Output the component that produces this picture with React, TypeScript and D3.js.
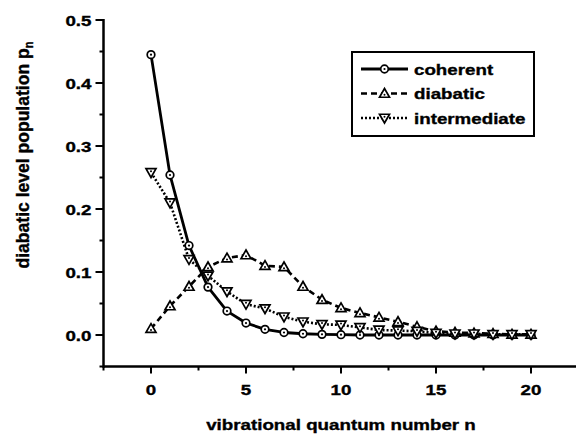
import React from "react";
import * as d3 from "d3";

const nValues = d3.range(0, 21);
const coherent = [0.445, 0.254, 0.142, 0.076, 0.038, 0.019, 0.009, 0.004, 0.002, 0.001, 0.0005, 0, 0, 0, 0, 0, 0, 0, 0, 0, 0];
const diabatic = [0.01, 0.046, 0.077, 0.108, 0.122, 0.127, 0.11, 0.108, 0.077, 0.056, 0.043, 0.035, 0.028, 0.021, 0.013, 0.006, 0.004, 0.003, 0.002, 0.001, 0.001];
const intermediate = [0.258, 0.21, 0.12, 0.094, 0.069, 0.049, 0.042, 0.029, 0.021, 0.017, 0.016, 0.012, 0.008, 0.007, 0.006, 0.003, 0.002, 0.002, 0.001, 0.001, 0.001];
const seriesNames = ["coherent", "diabatic", "intermediate"];
const xMajorTicks = [0, 5, 10, 15, 20];
const xMinorTicks = [-2.5, 2.5, 7.5, 12.5, 17.5, 22.5];
const yMajorTicks = [0.0, 0.1, 0.2, 0.3, 0.4, 0.5];
const yMinorTicks = [-0.05, 0.05, 0.15, 0.25, 0.35, 0.45];

const W = 576;
const H = 434;
const FONT = "'Liberation Sans', Arial, sans-serif";
const SX = 1.25;

const x = d3.scaleLinear().domain([-2.5, 22.5]).range([103.5, 578.5]);
const y = d3.scaleLinear().domain([-0.05, 0.5]).range([366.5, 20]);

type Kind = "circle" | "up" | "down";

function Marker({ cx, cy, kind }: { cx: number; cy: number; kind: Kind }) {
  if (kind === "circle") {
    return (
      <g>
        <circle cx={cx} cy={cy} r={3.8} fill="#fff" stroke="#000" strokeWidth={1.7} />
        <circle cx={cx} cy={cy} r={1.1} fill="#000" />
      </g>
    );
  }
  const s = 5;
  const pts =
    kind === "up"
      ? [[cx, cy - s], [cx + s, cy + s * 0.75], [cx - s, cy + s * 0.75]]
      : [[cx, cy + s], [cx + s, cy - s * 0.75], [cx - s, cy - s * 0.75]];
  return (
    <g>
      <polygon points={pts.map((p) => p.join(",")).join(" ")} fill="#fff" stroke="#000" strokeWidth={1.7} />
      <circle cx={cx} cy={kind === "up" ? cy + 1.3 : cy - 1.3} r={1} fill="#000" />
    </g>
  );
}

function SText({ px, py, anchor = "start", size = 15, children }: { px: number; py: number; anchor?: string; size?: number; children: React.ReactNode }) {
  return (
    <text
      transform={`translate(${px},${py}) scale(${SX},1)`}
      textAnchor={anchor}
      fontSize={size}
      fontWeight="bold"
      stroke="#000"
      strokeWidth={0.35}
    >
      {children}
    </text>
  );
}

const seriesData = [
  { name: seriesNames[0], values: coherent, kind: "circle" as Kind, dash: "none", width: 2.8 },
  { name: seriesNames[1], values: diabatic, kind: "up" as Kind, dash: "6,4", width: 2.6 },
  { name: seriesNames[2], values: intermediate, kind: "down" as Kind, dash: "2,2", width: 2.6 },
];

export default function App() {
  const line = d3
    .line<number>()
    .x((_, i) => x(nValues[i]))
    .y((d) => y(d));

  const axisY = y(-0.05);
  const axisX = x(-2.5);
  const legendX = 352;
  const legendY = 52;
  const legendRows = [69, 93.5, 118];

  return (
    <svg width={W} height={H} style={{ position: "absolute", left: 0, top: 0, background: "#fff" }} fontFamily={FONT}>
      <rect x={0} y={0} width={W} height={H} fill="#fff" />
      {seriesData.map((s) => (
        <path key={s.name} d={line(s.values) || ""} fill="none" stroke="#000" strokeWidth={s.width} strokeDasharray={s.dash} strokeLinejoin="round" />
      ))}
      {seriesData.map((s) =>
        s.values.map((v, i) => <Marker key={s.name + i} cx={x(nValues[i])} cy={y(v)} kind={s.kind} />)
      )}

      {/* axes */}
      <line x1={axisX} x2={W + 5} y1={axisY} y2={axisY} stroke="#000" strokeWidth={2.5} />
      <line x1={axisX} x2={axisX} y1={axisY + 1.25} y2={y(0.5) - 1} stroke="#000" strokeWidth={2.5} />
      {xMajorTicks.map((t) => (
        <g key={"xt" + t}>
          <line x1={x(t)} x2={x(t)} y1={axisY} y2={axisY + 7} stroke="#000" strokeWidth={2} />
          <SText px={x(t)} py={395} anchor="middle">{t}</SText>
        </g>
      ))}
      {xMinorTicks.map((t) => (
        <line key={"xm" + t} x1={x(t)} x2={x(t)} y1={axisY} y2={axisY + 4} stroke="#000" strokeWidth={2} />
      ))}
      {yMajorTicks.map((t) => (
        <g key={"yt" + t}>
          <line x1={axisX - 8} x2={axisX} y1={y(t)} y2={y(t)} stroke="#000" strokeWidth={2} />
          <SText px={axisX - 12} py={y(t) + 5.5} anchor="end">{d3.format(".1f")(t)}</SText>
        </g>
      ))}
      {yMinorTicks.map((t) => (
        <line key={"ym" + t} x1={axisX - 4} x2={axisX} y1={y(t)} y2={y(t)} stroke="#000" strokeWidth={2} />
      ))}

      {/* axis titles */}
      <SText px={341} py={430} anchor="middle">vibrational quantum number n</SText>
      <text
        transform="translate(29,155) rotate(-90) scale(1.17,1.25)"
        textAnchor="middle"
        fontSize={15}
        fontWeight="bold"
        stroke="#000"
        strokeWidth={0.3}
      >
        diabatic level population p<tspan fontSize={9.5} dy={3}>n</tspan>
      </text>

      {/* legend */}
      <rect x={legendX} y={legendY} width={182} height={84} fill="#fff" stroke="#000" strokeWidth={2} />
      {seriesData.map((s, i) => (
        <g key={"lg" + s.name}>
          <line x1={361} x2={408} y1={legendRows[i]} y2={legendRows[i]} stroke="#000" strokeWidth={s.width} strokeDasharray={s.dash} />
          <Marker cx={384.5} cy={legendRows[i]} kind={s.kind} />
          <SText px={414} py={legendRows[i] + 5.5}>{s.name}</SText>
        </g>
      ))}
    </svg>
  );
}
